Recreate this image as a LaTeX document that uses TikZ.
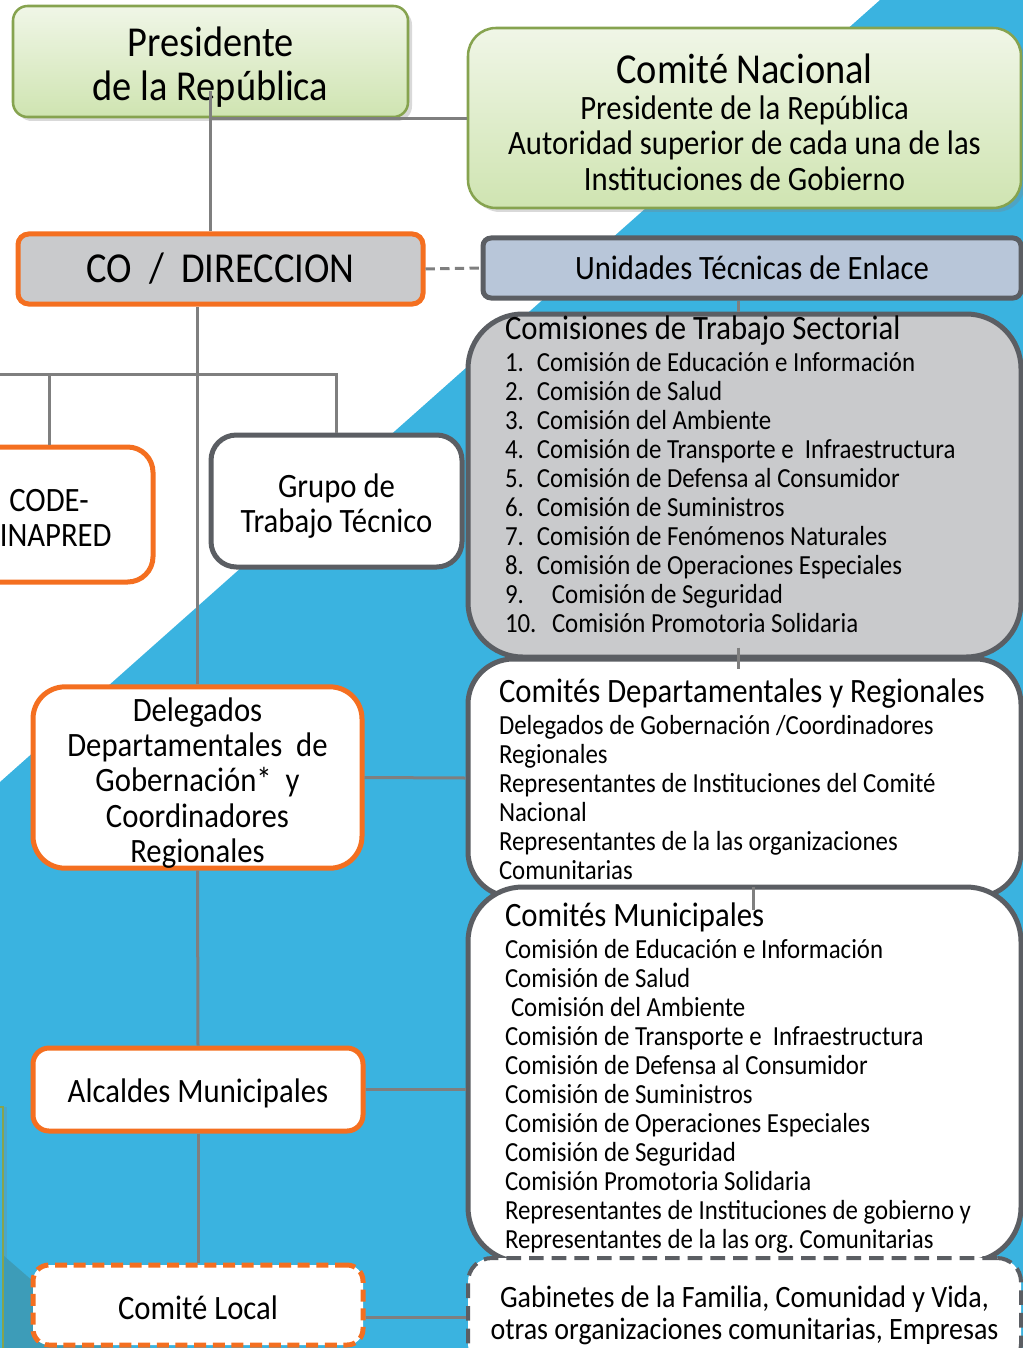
\documentclass[tikz,border=0pt]{standalone}
\usepackage{fontspec}
\setmainfont{Carlito}[FakeStretch=0.9]
\usetikzlibrary{positioning,shadows,calc}
\definecolor{sky}{HTML}{3AB3E0}
\definecolor{deep}{HTML}{3D9CB8}
\definecolor{org}{HTML}{F46F20}
\definecolor{slate}{HTML}{5B5E63}
\definecolor{fog}{HTML}{C9CACC}
\definecolor{steel}{HTML}{B8C6D9}
\definecolor{leaf}{HTML}{86A34F}
\definecolor{leaftop}{HTML}{F0F6E7}
\definecolor{leafbot}{HTML}{CFE4B1}
\definecolor{wire}{HTML}{7F7F7F}
\newcommand{\fbig}{\fontsize{32pt}{33pt}\selectfont}
\newcommand{\fmid}{\fontsize{25.6pt}{26.4pt}\selectfont}
\newcommand{\fgab}{\fontsize{23.3pt}{24pt}\selectfont}
\newcommand{\flist}{\fontsize{20.7pt}{21.75pt}\selectfont}
\newcommand{\nr}[1]{\makebox[24pt][l]{#1}}
\newcommand{\nrw}[1]{\makebox[35.25pt][l]{#1}}
\newcommand{\upstrut}[1]{\rule{0pt}{#1}}
\newcommand{\dnstrut}[1]{\rule[-#1]{0pt}{#1}}
\tikzset{
  box/.style={align=center,inner sep=0pt,text=black},
  obox/.style={box,draw=org,line width=3.75pt,fill=white},
  dbox/.style={box,draw=slate,line width=3.75pt,fill=white},
  gbox/.style={box,draw=leaf,line width=1.9pt,top color=leaftop,bottom color=leafbot,
    drop shadow={shadow xshift=3pt,shadow yshift=-3pt,opacity=.3}},
  link/.style={draw=wire,line width=2.25pt},
}
\begin{document}
\begin{tikzpicture}[x=0.75pt,y=-0.75pt]
\useasboundingbox (0,0) rectangle (1023,1348);
% background
\fill[sky] (880,0) -- (1023,0) -- (1023,1348) -- (0,1348) -- (0,782) -- cycle;
\draw[leaf,line width=1.5pt,fill=sky,drop shadow={shadow xshift=3pt,shadow yshift=0pt,opacity=.25}] (-30,1107) rectangle (3,1370);
\fill[deep] (4,1256) -- (110,1348) -- (4,1348) -- cycle;

% top
\node[gbox,rounded corners=11pt,minimum width=296.25pt,minimum height=83.25pt,font=\fbig] (pres) at (210.5,61.5) {\upstrut{31pt}Presidente\\de la República};
\node[gbox,rounded corners=21pt,minimum width=414.75pt,minimum height=135pt,font=\fmid] (cn) at (744.5,118) {{\fbig\upstrut{28pt}Comité Nacional}\\[1pt]Presidente de la República\\Autoridad superior de cada una de las\\Instituciones de Gobierno};
\node[box,draw=org,line width=3.75pt,fill=fog,rounded corners=8pt,minimum width=303.75pt,minimum height=52.5pt,font=\fbig] (co) at (220.5,269) {CO\ \ /\ \ DIRECCION};
\node[box,draw=slate,line width=3.75pt,fill=steel,rounded corners=6pt,minimum width=403.5pt,minimum height=45pt,font=\fmid] (ute) at (752,268) {Unidades Técnicas de Enlace};

% right column
\node[dbox,fill=fog,rounded corners=41pt,minimum width=414.75pt,minimum height=257.25pt,align=left,text width=359.25pt,font=\flist] (cts) at (744.5,485.5) {\spaceskip=0pt\relax{\fmid Comisiones de Trabajo Sectorial}\\[2.25pt]
\nr{1.}Comisión de Educación e Información\\
\nr{2.}Comisión de Salud\\
\nr{3.}Comisión del Ambiente\\
\nr{4.}\mbox{Comisión de Transporte e\ \ Infraestructura}\\
\nr{5.}Comisión de Defensa al Consumidor\\
\nr{6.}Comisión de Suministros\\
\nr{7.}Comisión de Fenómenos Naturales\\
\nr{8.}Comisión de Operaciones Especiales\\
\nrw{9.}Comisión de Seguridad\\
\nrw{10.}Comisión Promotoria Solidaria\dnstrut{17pt}};
\node[dbox,rounded corners=34pt,minimum width=414.75pt,minimum height=178.5pt,align=left,text width=368.25pt,font=\flist] (cdr) at (744.5,778) {\spaceskip=0pt\relax\mbox{\fmid\upstrut{20pt}Comités Departamentales y Regionales}\\[2.25pt]
\mbox{Delegados de Gobernación /Coordinadores}\\
Regionales\\
\mbox{Representantes de Instituciones del Comité}\\
Nacional\\
\mbox{Representantes de la las organizaciones}\\
Comunitarias};
\node[dbox,rounded corners=41pt,minimum width=414.75pt,minimum height=281.25pt,align=left,text width=359.25pt,font=\flist] (cmu) at (744.5,1074.5) {\spaceskip=0pt\relax{\fmid\upstrut{23pt}Comités Municipales}\\[2.25pt]
Comisión de Educación e Información\\
Comisión de Salud\\
\hspace*{4.5pt}Comisión del Ambiente\\
\mbox{Comisión de Transporte e\ \ Infraestructura}\\
Comisión de Defensa al Consumidor\\
Comisión de Suministros\\
Comisión de Operaciones Especiales\\
Comisión de Seguridad\\
Comisión Promotoria Solidaria\\
\mbox{Representantes de Instituciones de gobierno y}\\
\mbox{Representantes de la las org.\ Comunitarias}};
\node[box,draw=slate,line width=3pt,dash pattern=on 11pt off 6pt,fill=white,rounded corners=18pt,minimum width=414.75pt,minimum height=82.5pt,font=\fgab] (gab) at (744.5,1313) {\upstrut{20pt}Gabinetes de la Familia, Comunidad y Vida,\\otras organizaciones comunitarias, Empresas};

% left column
\node[obox,rounded corners=19pt,minimum width=156pt,minimum height=101.25pt,font=\fmid] (cod) at (49,514.5) {\upstrut{22pt}CODE-\\\hspace*{10pt}INAPRED};
\node[dbox,rounded corners=19pt,minimum width=188.25pt,minimum height=99pt,font=\fmid] (gtt) at (336.5,501) {\upstrut{25pt}Grupo de\\Trabajo Técnico};
\node[obox,rounded corners=24pt,minimum width=246.75pt,minimum height=134.25pt,font=\fmid] (dele) at (197.5,777.5) {\upstrut{26pt}Delegados\\Departamentales\ \ de\\Gobernación*\ \ y\\Coordinadores\\Regionales};
\node[obox,rounded corners=12pt,minimum width=247.5pt,minimum height=62.25pt,font=\fmid] (alc) at (198,1089.5) {\upstrut{23pt}Alcaldes Municipales};
\node[obox,dash pattern=on 9pt off 5pt,rounded corners=12pt,minimum width=247.5pt,minimum height=60pt,font=\fmid] (loc) at (198,1305) {\upstrut{22pt}Comité Local};

% connectors
\coordinate (busw) at (-10,374);
\coordinate (locr) at ($(loc.east)+(0,12)$);
\draw[link] ($(pres.south)+(0,-27)$) -- (pres.south |- co.north);
\draw[link] (pres.south) -- (pres.south -| cn.west);
\draw[link,dash pattern=on 7pt off 4pt] (co.east) -- (ute.west);
\draw[link] ($(ute.south)+(-14,0)$) -- ($(cts.north)+(-6.5,0)$);
\draw[link] ($(cts.south)+(-6.5,-12)$) -- ($(cdr.north)+(-6.5,12)$);
\draw[link] ($(cdr.south)+(8.5,-13)$) -- ($(cmu.north)+(8.5,25)$);
\draw[link] (co.south -| dele.north) -- (dele.north);
\draw[link] (busw) -- (gtt.north |- busw) -- (gtt.north);
\draw[link] (cod.north |- busw) -- (cod.north);
\draw[link] (dele.east) -- (cdr.west);
\draw[link] (dele.south) -- (alc.north);
\draw[link] (alc.south) -- (loc.north);
\draw[link] (alc.east) -- (alc.east -| cmu.west);
\draw[link] (locr) -- (locr -| gab.west);
\end{tikzpicture}
\end{document}
